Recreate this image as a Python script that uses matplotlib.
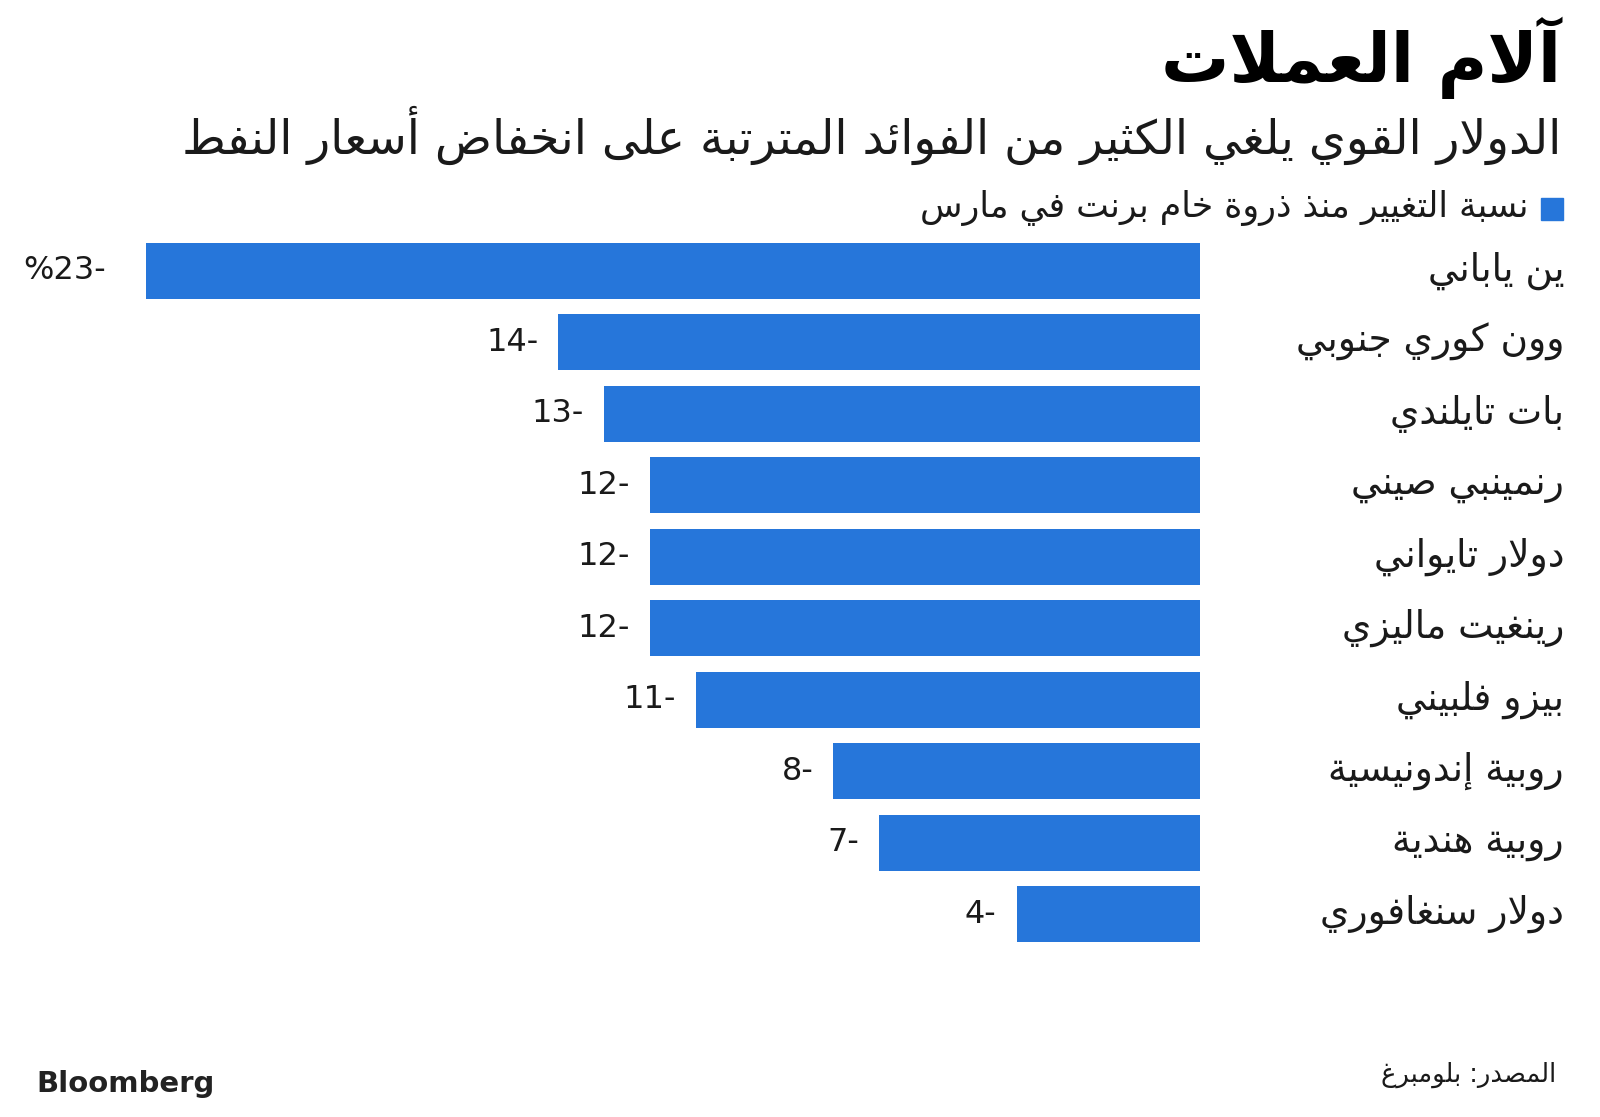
import matplotlib
matplotlib.use("Agg")
import matplotlib.pyplot as plt
from matplotlib.patches import Rectangle

# --- data ---
title = "آلام العملات"
subtitle = "الدولار القوي يلغي الكثير من الفوائد المترتبة على انخفاض أسعار النفط"
legend_label = "نسبة التغيير منذ ذروة خام برنت في مارس"
source = "المصدر: بلومبرغ"
currencies = ["ين ياباني", "وون كوري جنوبي", "بات تايلندي", "رنمينبي صيني",
              "دولار تايواني", "رينغيت ماليزي", "بيزو فلبيني", "روبية إندونيسية",
              "روبية هندية", "دولار سنغافوري"]
changes = [-23, -14, -13, -12, -12, -12, -11, -8, -7, -4]

BLUE = "#2676da"
DARK = "#1a1a1a"

# --- minimal arabic shaping (presentation forms + visual order) ---
FORMS = {
    'ء': ('\ufe80',),
    'آ': ('\ufe81', '\ufe82'), 'أ': ('\ufe83', '\ufe84'), 'ؤ': ('\ufe85', '\ufe86'),
    'إ': ('\ufe87', '\ufe88'), 'ئ': ('\ufe89', '\ufe8a', '\ufe8b', '\ufe8c'),
    'ا': ('\ufe8d', '\ufe8e'), 'ب': ('\ufe8f', '\ufe90', '\ufe91', '\ufe92'),
    'ة': ('\ufe93', '\ufe94'), 'ت': ('\ufe95', '\ufe96', '\ufe97', '\ufe98'),
    'ث': ('\ufe99', '\ufe9a', '\ufe9b', '\ufe9c'), 'ج': ('\ufe9d', '\ufe9e', '\ufe9f', '\ufea0'),
    'ح': ('\ufea1', '\ufea2', '\ufea3', '\ufea4'), 'خ': ('\ufea5', '\ufea6', '\ufea7', '\ufea8'),
    'د': ('\ufea9', '\ufeaa'), 'ذ': ('\ufeab', '\ufeac'), 'ر': ('\ufead', '\ufeae'),
    'ز': ('\ufeaf', '\ufeb0'), 'س': ('\ufeb1', '\ufeb2', '\ufeb3', '\ufeb4'),
    'ش': ('\ufeb5', '\ufeb6', '\ufeb7', '\ufeb8'), 'ص': ('\ufeb9', '\ufeba', '\ufebb', '\ufebc'),
    'ض': ('\ufebd', '\ufebe', '\ufebf', '\ufec0'), 'ط': ('\ufec1', '\ufec2', '\ufec3', '\ufec4'),
    'ظ': ('\ufec5', '\ufec6', '\ufec7', '\ufec8'), 'ع': ('\ufec9', '\ufeca', '\ufecb', '\ufecc'),
    'غ': ('\ufecd', '\ufece', '\ufecf', '\ufed0'), 'ف': ('\ufed1', '\ufed2', '\ufed3', '\ufed4'),
    'ق': ('\ufed5', '\ufed6', '\ufed7', '\ufed8'), 'ك': ('\ufed9', '\ufeda', '\ufedb', '\ufedc'),
    'ل': ('\ufedd', '\ufede', '\ufedf', '\ufee0'), 'م': ('\ufee1', '\ufee2', '\ufee3', '\ufee4'),
    'ن': ('\ufee5', '\ufee6', '\ufee7', '\ufee8'), 'ه': ('\ufee9', '\ufeea', '\ufeeb', '\ufeec'),
    'و': ('\ufeed', '\ufeee'), 'ى': ('\ufeef', '\ufef0'),
    'ي': ('\ufef1', '\ufef2', '\ufef3', '\ufef4'),
}
LAM_ALEF = {'آ': ('\ufef5', '\ufef6'), 'أ': ('\ufef7', '\ufef8'),
            'إ': ('\ufef9', '\ufefa'), 'ا': ('\ufefb', '\ufefc')}


def ar(text):
    items = []
    i = 0
    while i < len(text):
        c = text[i]
        if c == 'ل' and i + 1 < len(text) and text[i + 1] in LAM_ALEF:
            items.append(LAM_ALEF[text[i + 1]])
            i += 2
        else:
            items.append(FORMS.get(c, c))
            i += 1
    out = []
    for k, f in enumerate(items):
        if isinstance(f, str):
            out.append(f)
            continue
        prev = items[k - 1] if k > 0 else None
        nxt = items[k + 1] if k + 1 < len(items) else None
        pj = isinstance(prev, tuple) and len(prev) == 4
        nj = len(f) == 4 and isinstance(nxt, tuple) and len(nxt) > 1
        if len(f) == 1:
            out.append(f[0])
        elif len(f) == 2:
            out.append(f[1] if pj else f[0])
        else:
            if pj and nj:
                out.append(f[3])
            elif pj:
                out.append(f[1])
            elif nj:
                out.append(f[2])
            else:
                out.append(f[0])
    return "".join(out)[::-1]


plt.rcParams['font.family'] = ['DejaVu Sans']

W, H = 1600, 1117
fig = plt.figure(figsize=(W / 100, H / 100), dpi=100)
fig.patch.set_facecolor("white")

# axes: x from -23 (px 146) to 0 (px 1200); rows centred 271..914 px
top_px, bot_px = 235, 950
ax = fig.add_axes([146 / W, 1 - bot_px / H, (1200 - 146) / W, (bot_px - top_px) / H])
ypos = list(range(len(changes)))
ax.barh(ypos, changes, height=0.78, color=BLUE)
ax.set_xlim(min(changes), 0)
ax.set_ylim(len(changes) - 0.5, -0.5)
ax.axis("off")

for y, v in zip(ypos, changes):
    lbl = f"{abs(v)}-"
    off = -20
    if y == 0:
        lbl = "%" + lbl
        off = -40
    ax.annotate(lbl, (v, y), xytext=(off, 0), textcoords="offset pixels",
                ha="right", va="center", fontsize=23, color=DARK)
    ax.annotate(ar(currencies[y]), (0, y), xytext=(1564 - 1200, 0),
                textcoords="offset pixels", ha="right", va="center",
                fontsize=27, color=DARK)

fig.text(1561 / W, 1 - 58 / H, ar(title), ha="right", va="center",
         fontsize=49, fontweight="bold", color="black")
fig.text(1561 / W, 1 - 135 / H, ar(subtitle), ha="right", va="center",
         fontsize=34, color=DARK)
fig.patches.append(Rectangle((1541 / W, 1 - 220 / H), 22 / W, 22 / H,
                             transform=fig.transFigure, color=BLUE))
fig.text(1528 / W, 1 - 208 / H, ar(legend_label), ha="right", va="center",
         fontsize=25, color=DARK)
fig.text(1556 / W, 1 - 1075 / H, ar(source), ha="right", va="center",
         fontsize=18.5, color=DARK)
fig.text(36 / W, 1 - 1084 / H, "Bloomberg", ha="left", va="center",
         fontsize=21, fontweight="heavy", color="#222222")

fig.savefig("out.png", dpi=100, facecolor="white")
